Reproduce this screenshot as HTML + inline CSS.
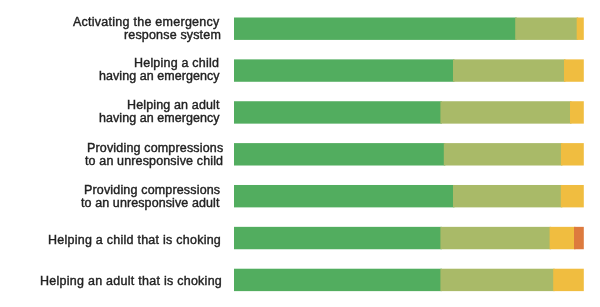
<!DOCTYPE html><html><head><meta charset="utf-8"><style>
html,body{margin:0;padding:0;background:#fff;width:600px;height:307px;overflow:hidden;position:relative}
.t{position:absolute;right:0;font-family:"Liberation Sans",sans-serif;font-size:12.5px;line-height:12.5px;color:#222222;white-space:nowrap;letter-spacing:0px;text-align:right;-webkit-text-stroke:0.4px #222222;will-change:transform}
.b{position:absolute;height:22.4px}
</style></head><body>
<div style="position:absolute;left:0;top:0;width:600px;height:307px;filter:blur(0.4px)">
<div class="t" style="right:380.55px;top:15.72px;letter-spacing:0.257px">Activating the emergency</div>
<div class="t" style="right:378.57px;top:28.82px;letter-spacing:0.165px">response system</div>
<div class="t" style="right:381.40px;top:56.92px;letter-spacing:0.206px">Helping a child</div>
<div class="t" style="right:380.88px;top:70.12px;letter-spacing:0.052px">having an emergency</div>
<div class="t" style="right:380.54px;top:98.87px;letter-spacing:0.144px">Helping an adult</div>
<div class="t" style="right:380.03px;top:112.12px;letter-spacing:0.057px">having an emergency</div>
<div class="t" style="right:377.14px;top:141.72px;letter-spacing:0.167px">Providing compressions</div>
<div class="t" style="right:377.00px;top:154.72px;letter-spacing:0.141px">to an unresponsive child</div>
<div class="t" style="right:379.74px;top:184.02px;letter-spacing:0.163px">Providing compressions</div>
<div class="t" style="right:380.82px;top:196.92px;letter-spacing:0.097px">to an unresponsive adult</div>
<div class="t" style="right:379.12px;top:233.82px;letter-spacing:0.248px">Helping a child that is choking</div>
<div class="t" style="right:377.50px;top:275.12px;letter-spacing:0.261px">Helping an adult that is choking</div>
<svg width="600" height="307" style="position:absolute;left:0;top:0" viewBox="0 0 600 307">
<g>
<rect x="234.00" y="17.50" width="282.70" height="22.4" fill="#52ad5f"/>
<rect x="515.20" y="17.50" width="63.00" height="22.4" fill="#a9ba68"/>
<rect x="576.70" y="17.50" width="7.10" height="22.4" fill="#f0bd40"/>
<rect x="234.00" y="59.37" width="220.50" height="22.4" fill="#52ad5f"/>
<rect x="453.00" y="59.37" width="112.50" height="22.4" fill="#a9ba68"/>
<rect x="564.00" y="59.37" width="19.80" height="22.4" fill="#f0bd40"/>
<rect x="234.00" y="101.24" width="207.90" height="22.4" fill="#52ad5f"/>
<rect x="440.40" y="101.24" width="131.10" height="22.4" fill="#a9ba68"/>
<rect x="570.00" y="101.24" width="13.80" height="22.4" fill="#f0bd40"/>
<rect x="234.00" y="143.11" width="211.30" height="22.4" fill="#52ad5f"/>
<rect x="443.80" y="143.11" width="118.60" height="22.4" fill="#a9ba68"/>
<rect x="560.90" y="143.11" width="22.90" height="22.4" fill="#f0bd40"/>
<rect x="234.00" y="184.98" width="220.50" height="22.4" fill="#52ad5f"/>
<rect x="453.00" y="184.98" width="109.30" height="22.4" fill="#a9ba68"/>
<rect x="560.80" y="184.98" width="23.00" height="22.4" fill="#f0bd40"/>
<rect x="234.00" y="226.85" width="207.90" height="22.4" fill="#52ad5f"/>
<rect x="440.40" y="226.85" width="110.70" height="22.4" fill="#a9ba68"/>
<rect x="549.60" y="226.85" width="25.90" height="22.4" fill="#f0bd40"/>
<rect x="574.00" y="226.85" width="9.80" height="22.4" fill="#dd7a3e"/>
<rect x="234.00" y="268.72" width="207.90" height="22.4" fill="#52ad5f"/>
<rect x="440.40" y="268.72" width="114.30" height="22.4" fill="#a9ba68"/>
<rect x="553.20" y="268.72" width="30.60" height="22.4" fill="#f0bd40"/>
</g></svg>
</div></body></html>
